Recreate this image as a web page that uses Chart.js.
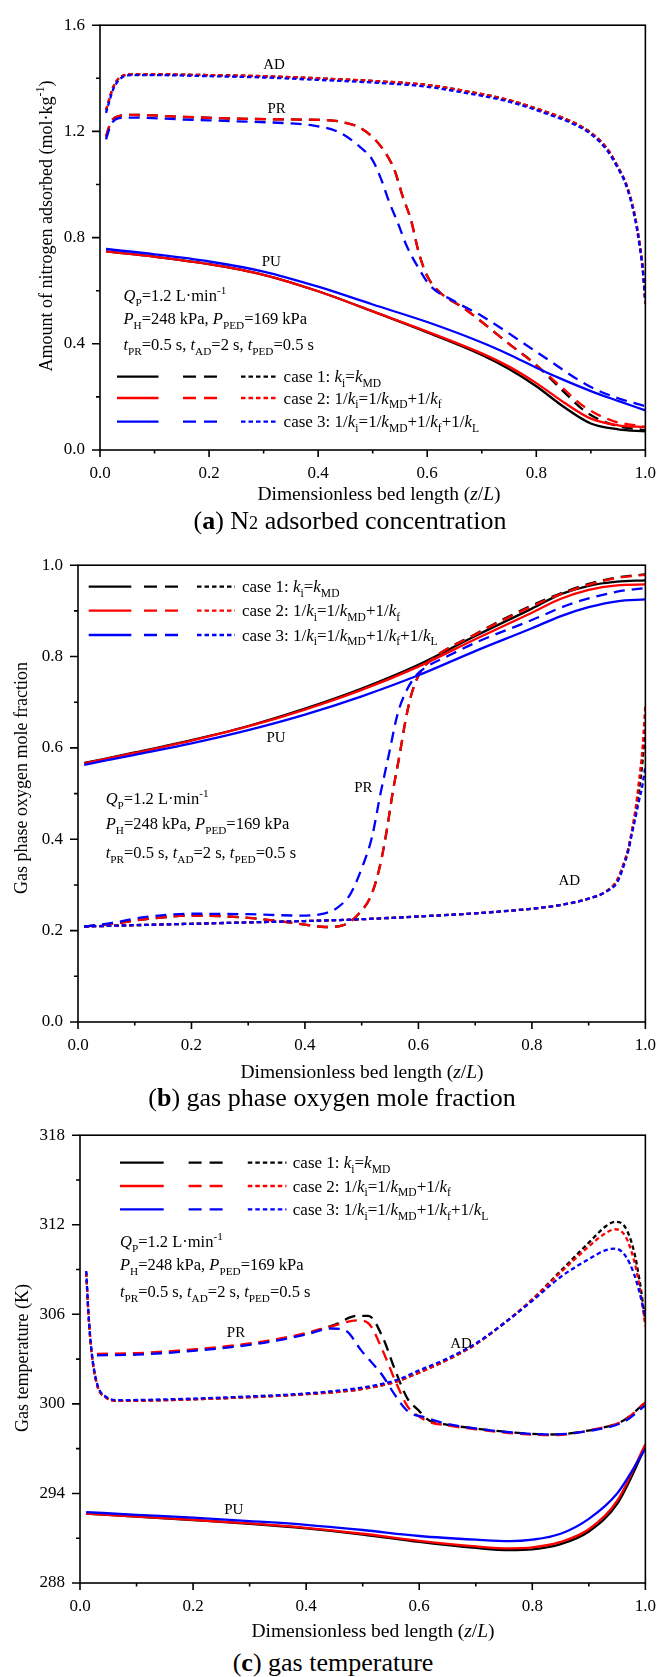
<!DOCTYPE html>
<html>
<head>
<meta charset="utf-8">
<script src="https://cdn.jsdelivr.net/npm/chart.js@4.4.1/dist/chart.umd.min.js"></script>
<style>
    body { margin: 0; background: #fff; width: 669px; height: 1677px; position: relative; overflow: hidden; }
    .box { position: absolute; left: 0; width: 669px; }
    .cap { position: absolute; width: 500px; text-align: center; white-space: nowrap;
           font-family: "Liberation Serif", "Times New Roman", serif; font-size: 26px; line-height: 30px; color: #000; }
    .cap small { font-size: 70%; }
</style>
</head>
<body>
<div class="box" style="top:0;height:510px"><canvas id="chartA"></canvas></div>
<div class="box" style="top:540px;height:545px"><canvas id="chartB"></canvas></div>
<div class="box" style="top:1110px;height:535px"><canvas id="chartC"></canvas></div>
<div class="cap" style="left:100px;top:506px">(<b>a</b>) N<small>2</small> adsorbed concentration</div>
<div class="cap" style="left:82px;top:1083px">(<b>b</b>) gas phase oxygen mole fraction</div>
<div class="cap" style="left:83px;top:1648px">(<b>c</b>) gas temperature</div>
<script>
const FONT = '"Liberation Serif", "Times New Roman", serif';
const COLORS = ["#000000", "#ff0000", "#0000ff"];

// shared x ticks
const xMajor = [0, 0.2, 0.4, 0.6, 0.8, 1.0];
const xMinor = [0.1, 0.3, 0.5, 0.7, 0.9];

// ---------- (a) N2 adsorbed concentration ----------
const aYMajor = [0, 0.4, 0.8, 1.2, 1.6];
const aYMinor = [0.2, 0.6, 1.0, 1.4];

const aPuX = [0.011, 0.1, 0.2, 0.3, 0.4, 0.5, 0.6, 0.7, 0.75, 0.8, 0.85, 0.9, 0.95, 1.0];
const aPu1 = [0.748, 0.728, 0.700, 0.660, 0.598, 0.522, 0.443, 0.358, 0.305, 0.240, 0.163, 0.100, 0.078, 0.070];
const aPu2 = [0.748, 0.728, 0.700, 0.660, 0.598, 0.522, 0.446, 0.364, 0.314, 0.252, 0.180, 0.118, 0.093, 0.086];
const aPu3 = [0.757, 0.737, 0.710, 0.672, 0.615, 0.548, 0.482, 0.405, 0.360, 0.310, 0.264, 0.222, 0.185, 0.149];

const aPrX = [0.011, 0.02, 0.035, 0.06, 0.15, 0.25, 0.35, 0.41, 0.44, 0.48, 0.516, 0.54, 0.555, 0.57, 0.585, 0.6, 0.62, 0.67, 0.75, 0.8, 0.85, 0.89, 0.94, 1.0];
const aPr1 = [1.18, 1.235, 1.258, 1.262, 1.255, 1.248, 1.245, 1.243, 1.237, 1.21, 1.141, 1.054, 0.955, 0.868, 0.74, 0.655, 0.60, 0.53, 0.40, 0.32, 0.22, 0.145, 0.095, 0.075];
const aPr2 = [1.18, 1.235, 1.258, 1.262, 1.255, 1.248, 1.245, 1.243, 1.237, 1.21, 1.141, 1.054, 0.955, 0.868, 0.74, 0.655, 0.60, 0.53, 0.40, 0.32, 0.23, 0.16, 0.11, 0.087];
const aPr3X = [0.011, 0.02, 0.035, 0.06, 0.15, 0.25, 0.35, 0.392, 0.438, 0.477, 0.5, 0.516, 0.531, 0.546, 0.562, 0.585, 0.605, 0.65, 0.7, 0.8, 0.9, 0.95, 1.0];
const aPr3 = [1.17, 1.225, 1.25, 1.252, 1.245, 1.238, 1.23, 1.222, 1.197, 1.141, 1.091, 1.017, 0.93, 0.856, 0.77, 0.682, 0.62, 0.56, 0.505, 0.37, 0.237, 0.195, 0.165];

const aAdX = [0.011, 0.025, 0.04, 0.06, 0.1, 0.2, 0.3, 0.4, 0.5, 0.6, 0.67, 0.75, 0.82, 0.87, 0.9, 0.93, 0.95, 0.965, 0.98, 0.99, 0.995, 1.0];
const aAd1 = [1.28, 1.37, 1.408, 1.415, 1.415, 1.412, 1.408, 1.40, 1.39, 1.375, 1.352, 1.318, 1.272, 1.232, 1.195, 1.135, 1.065, 1.0, 0.89, 0.77, 0.69, 0.55];
const aAd2 = [1.28, 1.37, 1.408, 1.415, 1.415, 1.412, 1.408, 1.40, 1.39, 1.375, 1.352, 1.318, 1.272, 1.232, 1.195, 1.135, 1.065, 1.0, 0.89, 0.77, 0.69, 0.55];
const aAd3 = [1.27, 1.362, 1.403, 1.412, 1.412, 1.408, 1.403, 1.394, 1.384, 1.368, 1.345, 1.312, 1.266, 1.226, 1.19, 1.128, 1.06, 0.995, 0.88, 0.76, 0.68, 0.56];

// ---------- (b) gas phase oxygen mole fraction ----------
const bYMajor = [0, 0.2, 0.4, 0.6, 0.8, 1.0];
const bYMinor = [0.1, 0.3, 0.5, 0.7, 0.9];

const bPuX = [0.011, 0.1, 0.2, 0.3, 0.4, 0.5, 0.6, 0.7, 0.8, 0.85, 0.9, 0.95, 1.0];
const bPu1 = [0.567, 0.59, 0.617, 0.648, 0.686, 0.73, 0.782, 0.845, 0.905, 0.936, 0.955, 0.964, 0.967];
const bPu2 = [0.566, 0.589, 0.616, 0.647, 0.684, 0.727, 0.778, 0.838, 0.896, 0.926, 0.946, 0.956, 0.958];
const bPu3 = [0.563, 0.585, 0.61, 0.639, 0.673, 0.713, 0.759, 0.812, 0.862, 0.888, 0.908, 0.921, 0.925];

const bPrX = [0.011, 0.06, 0.12, 0.2, 0.3, 0.39, 0.435, 0.465, 0.495, 0.518, 0.533, 0.544, 0.555, 0.567, 0.578, 0.589, 0.604, 0.62, 0.7, 0.8, 0.85, 0.9, 0.95, 1.0];
const bPr1 = [0.209, 0.215, 0.225, 0.233, 0.228, 0.215, 0.208, 0.211, 0.237, 0.281, 0.346, 0.418, 0.505, 0.586, 0.665, 0.723, 0.767, 0.79, 0.849, 0.912, 0.938, 0.959, 0.973, 0.980];
const bPr2 = [0.209, 0.215, 0.225, 0.233, 0.228, 0.215, 0.208, 0.211, 0.237, 0.281, 0.346, 0.418, 0.505, 0.586, 0.665, 0.723, 0.767, 0.79, 0.848, 0.91, 0.936, 0.957, 0.972, 0.979];
const bPr3X = [0.011, 0.06, 0.12, 0.2, 0.3, 0.39, 0.435, 0.458, 0.48, 0.503, 0.518, 0.533, 0.548, 0.563, 0.578, 0.597, 0.615, 0.65, 0.7, 0.8, 0.87, 0.95, 1.0];
const bPr3 = [0.209, 0.217, 0.23, 0.237, 0.236, 0.233, 0.238, 0.251, 0.28, 0.346, 0.404, 0.499, 0.586, 0.673, 0.723, 0.76, 0.778, 0.80, 0.83, 0.88, 0.916, 0.942, 0.95];

const bAdX = [0.011, 0.1, 0.2, 0.3, 0.4, 0.5, 0.6, 0.7, 0.8, 0.85, 0.9, 0.93, 0.95, 0.96, 0.97, 0.976, 0.983, 0.988, 0.995, 1.0];
const bAd1 = [0.209, 0.212, 0.215, 0.218, 0.221, 0.225, 0.231, 0.238, 0.248, 0.256, 0.27, 0.285, 0.31, 0.34, 0.38, 0.415, 0.46, 0.50, 0.57, 0.645];
const bAd2 = [0.209, 0.212, 0.215, 0.218, 0.221, 0.225, 0.231, 0.238, 0.248, 0.256, 0.27, 0.285, 0.31, 0.34, 0.38, 0.418, 0.47, 0.52, 0.60, 0.695];
const bAd3 = [0.209, 0.212, 0.215, 0.218, 0.221, 0.225, 0.231, 0.238, 0.248, 0.256, 0.27, 0.285, 0.305, 0.335, 0.375, 0.41, 0.45, 0.48, 0.52, 0.56];

// ---------- (c) gas temperature ----------
const cYMajor = [288, 294, 300, 306, 312, 318];
const cYMinor = [291, 297, 303, 309, 315];

const cPuX = [0.011, 0.1, 0.2, 0.3, 0.4, 0.5, 0.6, 0.7, 0.76, 0.8, 0.85, 0.9, 0.95, 1.0];
const cPu1 = [292.65, 292.45, 292.22, 291.97, 291.66, 291.25, 290.75, 290.35, 290.2, 290.25, 290.6, 291.45, 293.3, 297.1];
const cPu2 = [292.65, 292.45, 292.23, 291.99, 291.7, 291.3, 290.82, 290.45, 290.32, 290.38, 290.75, 291.6, 293.5, 297.3];
const cPu3 = [292.75, 292.57, 292.38, 292.15, 291.9, 291.55, 291.15, 290.9, 290.8, 290.9, 291.3, 292.3, 294.0, 297.0];

const cPrX = [0.03, 0.1, 0.2, 0.3, 0.35, 0.4, 0.45, 0.49, 0.51, 0.535, 0.557, 0.58, 0.598, 0.617, 0.65, 0.7, 0.76, 0.835, 0.91, 0.962, 1.0];
const cPr1 = [303.3, 303.35, 303.6, 304.0, 304.3, 304.7, 305.3, 305.9, 305.9, 304.5, 302.3, 300.3, 299.6, 298.9, 298.6, 298.35, 298.1, 297.95, 298.3, 298.9, 300.1];
const cPr2 = [303.35, 303.4, 303.65, 304.05, 304.35, 304.75, 305.25, 305.6, 305.4, 303.6, 301.6, 299.8, 299.2, 298.8, 298.55, 298.3, 298.05, 297.9, 298.3, 298.9, 300.1];
const cPr3X = [0.03, 0.1, 0.2, 0.3, 0.35, 0.4, 0.445, 0.47, 0.497, 0.535, 0.557, 0.58, 0.61, 0.65, 0.7, 0.76, 0.835, 0.91, 0.962, 1.0];
const cPr3 = [303.25, 303.3, 303.55, 303.95, 304.25, 304.65, 305.05, 304.9, 303.6, 301.9, 300.6, 299.5, 299.1, 298.65, 298.35, 298.1, 297.95, 298.25, 298.8, 299.9];

const cAdX = [0.011, 0.015, 0.02, 0.03, 0.045, 0.07, 0.15, 0.3, 0.4, 0.5, 0.56, 0.6, 0.65, 0.7, 0.75, 0.8, 0.85, 0.9, 0.93, 0.947, 0.965, 0.98, 0.99, 1.0];
const cAd1 = [308.8, 306.0, 303.6, 301.3, 300.45, 300.2, 300.25, 300.45, 300.65, 301.0, 301.5, 302.1, 302.95, 304.0, 305.4, 307.0, 308.9, 310.8, 311.9, 312.2, 311.8, 310.2, 308.2, 305.5];
const cAd2 = [308.8, 306.0, 303.6, 301.3, 300.45, 300.2, 300.25, 300.45, 300.65, 301.0, 301.5, 302.1, 302.95, 304.0, 305.4, 307.0, 308.8, 310.55, 311.45, 311.7, 311.2, 309.6, 307.8, 305.2];
const cAd3 = [308.9, 306.1, 303.7, 301.4, 300.5, 300.25, 300.3, 300.5, 300.7, 301.1, 301.6, 302.25, 303.05, 304.05, 305.4, 306.9, 308.5, 309.7, 310.3, 310.4, 309.9, 308.7, 307.4, 305.8];

// legend and annotation text
const caseLabels = [
    [["case 1: ", "n"], ["k", "i"], ["i", "s"], ["=", "n"], ["k", "i"], ["MD", "s"]],
    [["case 2: 1/", "n"], ["k", "i"], ["i", "s"], ["=1/", "n"], ["k", "i"], ["MD", "s"], ["+1/", "n"], ["k", "i"], ["f", "s"]],
    [["case 3: 1/", "n"], ["k", "i"], ["i", "s"], ["=1/", "n"], ["k", "i"], ["MD", "s"], ["+1/", "n"], ["k", "i"], ["f", "s"], ["+1/", "n"], ["k", "i"], ["L", "s"]]
];
const paramLines = [
    [["Q", "i"], ["P", "s"], ["=1.2 L\u00b7min", "n"], ["-1", "S"]],
    [["P", "i"], ["H", "s"], ["=248 kPa, ", "n"], ["P", "i"], ["PED", "s"], ["=169 kPa", "n"]],
    [["t", "i"], ["PR", "s"], ["=0.5 s, ", "n"], ["t", "i"], ["AD", "s"], ["=2 s, ", "n"], ["t", "i"], ["PED", "s"], ["=0.5 s", "n"]]
];
const xTitle = [["Dimensionless bed length (", "n"], ["z", "i"], ["/", "n"], ["L", "i"], [")", "n"]];

function drawRich(ctx, x, y, parts, size, align) {
    const segs = parts.map(([t, m]) => {
        const small = m === "s" || m === "S";
        const fs = small ? size * 0.68 : size;
        const font = (m === "i" ? "italic " : "") + fs + "px " + FONT;
        ctx.font = font;
        return {
            t: t,
            font: font,
            w: ctx.measureText(t).width,
            dy: m === "s" ? size * 0.28 : m === "S" ? -size * 0.42 : 0
        };
    });
    const total = segs.reduce((a, s) => a + s.w, 0);
    let cx = align === "center" ? x - total / 2 : x;
    ctx.textAlign = "left";
    ctx.textBaseline = "alphabetic";
    ctx.fillStyle = "#000";
    segs.forEach((s) => {
        ctx.font = s.font;
        ctx.fillText(s.t, cx, y + s.dy);
        cx += s.w;
    });
}

function pts(xs, ys) {
    return xs.map((x, i) => ({ x: x, y: ys[i] }));
}

function makeDatasets(groups) {
    const sets = [];
    // blue first so it is painted on top
    [2, 1, 0].forEach((c) => {
        groups.forEach((g) => {
            sets.push({
                data: pts(g.xs[c], g.ys[c]),
                borderColor: COLORS[c],
                borderWidth: 2.3,
                borderDash: g.dash,
                pointRadius: 0,
                fill: false,
                cubicInterpolationMode: "monotone"
            });
        });
    });
    return sets;
}

function figurePlugin(cfg) {
    return {
        id: "fig" + cfg.id,
        afterDraw(chart) {
            const ctx = chart.ctx;
            const a = chart.chartArea;
            const xs = chart.scales.x;
            const ys = chart.scales.y;
            ctx.save();

            // frame and ticks
            ctx.strokeStyle = "#000";
            ctx.lineWidth = 1.6;
            ctx.setLineDash([]);
            ctx.strokeRect(a.left, a.top, a.right - a.left, a.bottom - a.top);
            ctx.beginPath();
            xMajor.forEach((v) => { const p = xs.getPixelForValue(v); ctx.moveTo(p, a.bottom); ctx.lineTo(p, a.bottom + 7); });
            xMinor.forEach((v) => { const p = xs.getPixelForValue(v); ctx.moveTo(p, a.bottom); ctx.lineTo(p, a.bottom + 3.5); });
            cfg.yMajor.forEach((v) => { const p = ys.getPixelForValue(v); ctx.moveTo(a.left, p); ctx.lineTo(a.left - 8, p); });
            cfg.yMinor.forEach((v) => { const p = ys.getPixelForValue(v); ctx.moveTo(a.left, p); ctx.lineTo(a.left - 4, p); });
            ctx.stroke();

            // legend
            ctx.lineWidth = 2.3;
            cfg.legendY.forEach((y, c) => {
                ctx.strokeStyle = COLORS[c];
                const segs = [[cfg.legendX[0], cfg.legendX[1], []], [cfg.legendX[2], cfg.legendX[3], [13, 8]], [cfg.legendX[4], cfg.legendX[5], [4.5, 3]]];
                segs.forEach(([x0, x1, dash]) => {
                    ctx.setLineDash(dash);
                    ctx.beginPath();
                    ctx.moveTo(x0, y);
                    ctx.lineTo(x1, y);
                    ctx.stroke();
                });
                ctx.setLineDash([]);
                drawRich(ctx, cfg.legendX[6], y + 5.5, caseLabels[c], 17, "left");
            });

            // operating conditions
            paramLines.forEach((line, i) => {
                drawRich(ctx, cfg.paramX, cfg.paramY[i], line, 16.5, "left");
            });

            // step labels
            ctx.font = "15px " + FONT;
            ctx.fillStyle = "#000";
            ctx.textAlign = "center";
            ctx.textBaseline = "middle";
            cfg.labels.forEach((l) => {
                ctx.fillText(l.text, xs.getPixelForValue(l.x), ys.getPixelForValue(l.y));
            });

            // axis titles
            drawRich(ctx, cfg.xTitlePos[0], cfg.xTitlePos[1] + 6.5, xTitle, 19.5, "center");
            ctx.translate(cfg.yTitlePos[0], cfg.yTitlePos[1]);
            ctx.rotate(-Math.PI / 2);
            drawRich(ctx, 0, 6, cfg.yTitle, 18, "center");
            ctx.restore();
        }
    };
}

function buildChart(cfg) {
    const ctx = document.getElementById(cfg.canvas).getContext("2d");
    const tickFont = { family: FONT, size: 17 };
    return new Chart(ctx, {
        type: "line",
        data: { datasets: makeDatasets(cfg.groups) },
        options: {
            responsive: true,
            maintainAspectRatio: false,
            animation: false,
            events: [],
            layout: { padding: { top: cfg.area.top, right: 669 - cfg.area.right, left: 0, bottom: 0 } },
            plugins: { legend: { display: false }, tooltip: { enabled: false } },
            scales: {
                x: {
                    type: "linear",
                    min: 0,
                    max: 1,
                    afterFit: (s) => { s.height = cfg.height - cfg.area.bottom; },
                    grid: { display: false, drawTicks: false },
                    border: { display: false },
                    ticks: { stepSize: 0.2, padding: 13, color: "#000", font: tickFont, maxRotation: 0,
                             callback: (v) => v.toFixed(1) }
                },
                y: {
                    min: cfg.yMajor[0],
                    max: cfg.yMajor[cfg.yMajor.length - 1],
                    afterFit: (s) => { s.width = cfg.area.left; },
                    grid: { display: false, drawTicks: false },
                    border: { display: false },
                    ticks: { stepSize: cfg.yMajor[1] - cfg.yMajor[0], padding: 15, color: "#000", font: tickFont,
                             callback: cfg.yFormat }
                }
            }
        },
        plugins: [figurePlugin(cfg)]
    });
}

const solid = [];
const dashed = [11, 7];
const dotted = [4.5, 3];

buildChart({
    id: "A", canvas: "chartA", height: 510,
    area: { top: 20, bottom: 450, left: 100, right: 655 },
    yMajor: aYMajor, yMinor: aYMinor, yFormat: (v) => v.toFixed(1),
    groups: [
        { xs: [aPuX, aPuX, aPuX], ys: [aPu1, aPu2, aPu3], dash: solid },
        { xs: [aPrX, aPrX, aPr3X], ys: [aPr1, aPr2, aPr3], dash: dashed },
        { xs: [aAdX, aAdX, aAdX], ys: [aAd1, aAd2, aAd3], dash: dotted }
    ],
    legendY: [376.7, 398, 421.7],
    legendX: [117, 158.5, 183, 217, 241, 277, 283.6],
    paramX: 123.5, paramY: [301, 324, 350],
    labels: [{ text: "AD", x: 0.319, y: 1.451 }, { text: "PR", x: 0.324, y: 1.284 }, { text: "PU", x: 0.314, y: 0.707 }],
    xTitlePos: [379, 493],
    yTitlePos: [46, 226],
    yTitle: [["Amount of nitrogen adsorbed (mol\u00b7kg", "n"], ["-1", "S"], [")", "n"]]
});

buildChart({
    id: "B", canvas: "chartB", height: 545,
    area: { top: 23, bottom: 482, left: 78, right: 646 },
    yMajor: bYMajor, yMinor: bYMinor, yFormat: (v) => v.toFixed(1),
    groups: [
        { xs: [bPuX, bPuX, bPuX], ys: [bPu1, bPu2, bPu3], dash: solid },
        { xs: [bPrX, bPrX, bPr3X], ys: [bPr1, bPr2, bPr3], dash: dashed },
        { xs: [bAdX, bAdX, bAdX], ys: [bAd1, bAd2, bAd3], dash: dotted }
    ],
    legendY: [46.7, 70.7, 95],
    legendX: [88.7, 131.3, 144, 180, 197, 235, 242],
    paramX: 105.7, paramY: [264, 289, 318],
    labels: [{ text: "PU", x: 0.349, y: 0.622 }, { text: "PR", x: 0.503, y: 0.513 }, { text: "AD", x: 0.866, y: 0.308 }],
    xTitlePos: [362, 531],
    yTitlePos: [21, 238],
    yTitle: [["Gas phase oxygen mole fraction", "n"]]
});

buildChart({
    id: "C", canvas: "chartC", height: 535,
    area: { top: 19, bottom: 473, left: 80, right: 652 },
    yMajor: cYMajor, yMinor: cYMinor, yFormat: (v) => String(v),
    groups: [
        { xs: [cPuX, cPuX, cPuX], ys: [cPu1, cPu2, cPu3], dash: solid },
        { xs: [cPrX, cPrX, cPr3X], ys: [cPr1, cPr2, cPr3], dash: dashed },
        { xs: [cAdX, cAdX, cAdX], ys: [cAd1, cAd2, cAd3], dash: dotted }
    ],
    legendY: [52.7, 76, 99.3],
    legendX: [120, 163.7, 188.6, 225, 247.8, 286.4, 292.8],
    paramX: 120, paramY: [137, 160, 187],
    labels: [{ text: "PR", x: 0.276, y: 304.76 }, { text: "AD", x: 0.674, y: 304.0 }, { text: "PU", x: 0.272, y: 292.87 }],
    xTitlePos: [373, 520],
    yTitlePos: [22, 248],
    yTitle: [["Gas temperature (K)", "n"]]
});
</script>
</body>
</html>
